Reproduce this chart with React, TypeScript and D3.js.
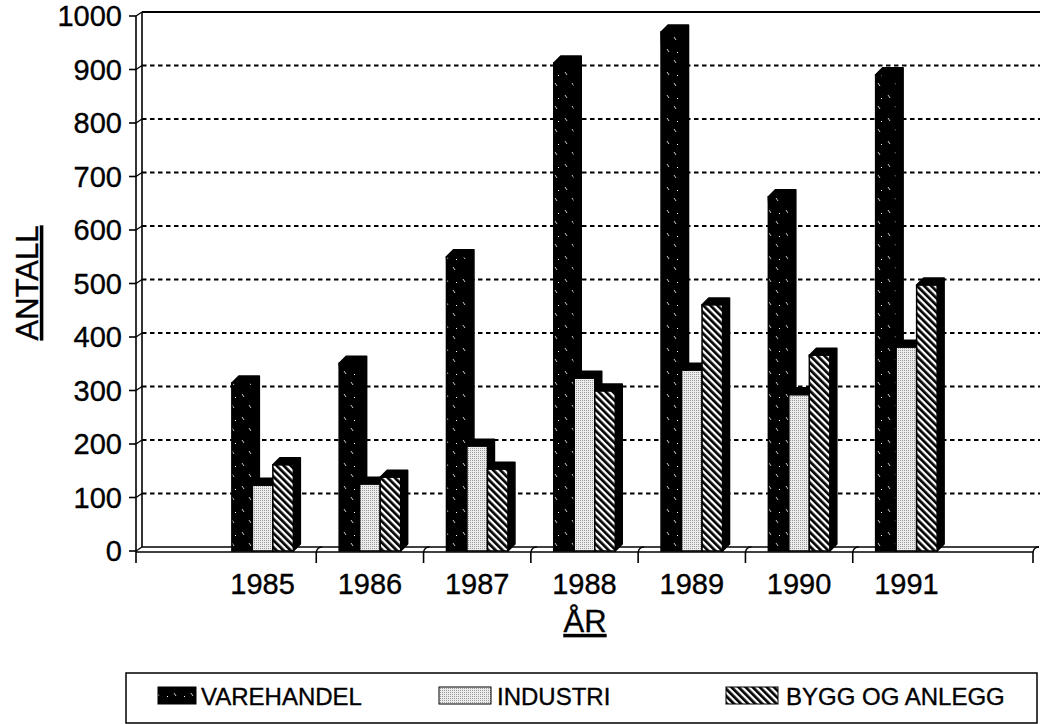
import React from "react";
import * as d3 from "d3";

// values
const years = ["1985", "1986", "1987", "1988", "1989", "1990", "1991"];
const seriesNames = ["VAREHANDEL", "INDUSTRI", "BYGG OG ANLEGG"];
const varehandel = [314, 351, 550, 912, 970, 662, 890];
const industri = [123, 125, 196, 323, 338, 292, 381];
const byggOgAnlegg = [161, 138, 153, 299, 460, 366, 497];
const yTicks = [0, 100, 200, 300, 400, 500, 600, 700, 800, 900, 1000];

const W = 1040;
const H = 724;
const FONT = "'Liberation Sans', Arial, Helvetica, sans-serif";

export default function App() {
  const values = [varehandel, industri, byggOgAnlegg];
  const fills = ["url(#pv)", "url(#pi)", "url(#pb)"];

  // front plane of the 3d box
  const left = 136;
  const right = 1033;
  const y = d3.scaleLinear().domain([0, 1000]).range([551, 16]);
  const x = d3.scalePoint<string>().domain(years).range([left, right]).padding(1.18);
  const step = x.step();
  const inner = d3.scaleBand<string>().domain(seriesNames).range([-30.75, 30.75]);
  const bw = inner.bandwidth();

  // depth of the back wall and of the bars
  const wdx = 6, wdy = 4;
  const bdx = 7, bdy = 7;

  const y0 = y(0);
  const xTicks = years.slice(0, -1).map(yr => (x(yr) as number) + step / 2).concat([right]);
  const txt = { fontFamily: FONT, fill: "#000", stroke: "#000", strokeWidth: 0.35 };

  return (
    <svg width={W} height={H} style={{ position: "absolute", left: 0, top: 0, background: "#fff" }}>
      <defs>
        <pattern id="pv" width="17" height="23" patternUnits="userSpaceOnUse">
          <rect width="17" height="23" fill="#000" />
          <line x1="4" y1="3" x2="6" y2="6" stroke="#fff" strokeWidth="0.8" />
          <line x1="11" y1="14" x2="13" y2="17" stroke="#fff" strokeWidth="0.8" />
          <rect x="14" y="6" width="1" height="1" fill="#fff" />
        </pattern>
        <pattern id="pi" width="2" height="2" patternUnits="userSpaceOnUse">
          <rect width="2" height="2" fill="#ececec" />
          <rect width="1" height="1" fill="#9a9a9a" />
        </pattern>
        <pattern id="pb" width="5" height="5" patternUnits="userSpaceOnUse" patternTransform="rotate(-45)">
          <rect width="5" height="5" fill="#fff" />
          <rect width="2.7" height="5" fill="#000" />
        </pattern>
      </defs>

      {/* back wall grid lines */}
      {yTicks.filter(t => t > 0 && t < 1000).map(t => (
        <line key={"g" + t} x1={left + wdx} x2={W} y1={y(t) - wdy} y2={y(t) - wdy}
          stroke="#000" strokeWidth={2.2} strokeDasharray="4.5 3.5" />
      ))}
      <line x1={left + wdx} x2={W} y1={y(1000) - wdy} y2={y(1000) - wdy} stroke="#000" strokeWidth={2} />

      {/* left wall */}
      <line x1={left} x2={left} y1={y(1000)} y2={y0 + 12} stroke="#000" strokeWidth={1.6} />
      <line x1={left + wdx} x2={left + wdx} y1={y(1000) - wdy} y2={y0 - wdy} stroke="#000" strokeWidth={1.6} />
      {yTicks.map(t => (
        <g key={"yt" + t}>
          <line x1={left - 7} x2={left} y1={y(t)} y2={y(t)} stroke="#000" strokeWidth={1.6} />
          <line x1={left} x2={left + wdx} y1={y(t)} y2={y(t) - wdy} stroke="#000" strokeWidth={1.4} />
          <text x={left - 14} y={y(t) + 10} textAnchor="end" fontSize={29} {...txt}>{t}</text>
        </g>
      ))}

      {/* floor */}
      <line x1={left} x2={right} y1={y0 + 1} y2={y0 + 1} stroke="#000" strokeWidth={1.6} />
      <line x1={left + wdx} x2={right + wdx} y1={y0 - wdy} y2={y0 - wdy} stroke="#000" strokeWidth={1.6} />
      {xTicks.map((tx, i) => (
        <g key={"xt" + i}>
          <line x1={tx} x2={tx} y1={y0 + 1} y2={y0 + 12} stroke="#000" strokeWidth={1.6} />
          <path d={`M${tx},${y0 + 1} Q${tx + 1},${y0 - wdy} ${tx + wdx},${y0 - wdy}`} fill="none" stroke="#000" strokeWidth={1.4} />
        </g>
      ))}

      {/* bars */}
      {years.map((yr, i) => (
        <g key={yr}>
          {seriesNames.map((s, j) => {
            const v = values[j][i];
            const bx = (x(yr) as number) + (inner(s) as number);
            const top = y(v);
            return (
              <g key={s}>
                <path d={`M${bx},${top} L${bx + bdx},${top - bdy} L${bx + bw + bdx},${top - bdy} L${bx + bw + bdx},${y0 - bdy} L${bx + bw},${y0} Z`}
                  fill="#000" stroke="#000" strokeWidth={1.5} strokeLinejoin="round" />
                <rect x={bx} y={top} width={bw} height={y0 - top} fill={fills[j]} stroke="#000" strokeWidth={1.5} />
              </g>
            );
          })}
          <text x={x(yr)} y={594} textAnchor="middle" fontSize={29} {...txt}>{yr}</text>
        </g>
      ))}

      {/* axis titles */}
      <text x={585} y={632} textAnchor="middle" fontSize={31} {...txt} style={{ textDecoration: "underline" }}>ÅR</text>
      <text transform="translate(38,283) rotate(-90)" textAnchor="middle" fontSize={31} {...txt}
        style={{ textDecoration: "underline" }}>ANTALL</text>

      {/* legend */}
      <rect x={126} y={673} width={911} height={50} fill="none" stroke="#000" strokeWidth={1.5} />
      {[
        { sx: 158, sw: 38, tx: 201 },
        { sx: 439, sw: 52, tx: 497 },
        { sx: 726, sw: 52, tx: 786 },
      ].map((p, j) => (
        <g key={"lg" + j}>
          <rect x={p.sx} y={687} width={p.sw} height={17} fill={fills[j]} stroke="#000" strokeWidth={1} />
          <text x={p.tx} y={705} fontSize={24} {...txt}>{seriesNames[j]}</text>
        </g>
      ))}
    </svg>
  );
}
